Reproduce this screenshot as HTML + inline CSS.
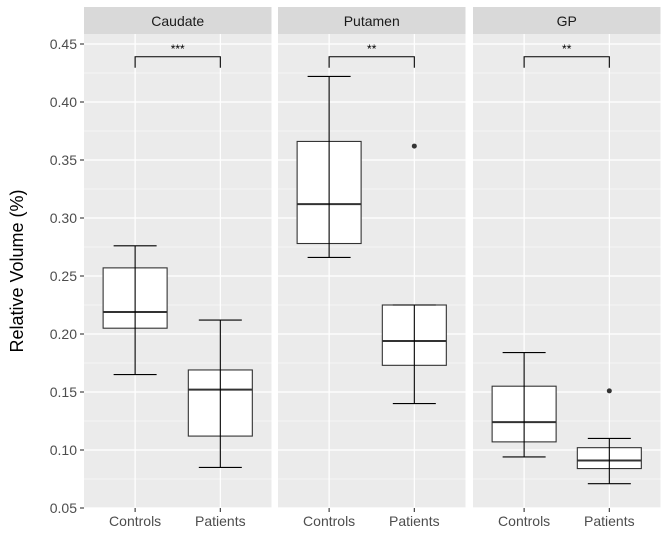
<!DOCTYPE html>
<html><head><meta charset="utf-8"><style>
body{margin:0;background:#fff;}
svg{display:block;font-family:"Liberation Sans",Arial,sans-serif;}
</style></head><body>
<svg id="chart" width="669" height="536"></svg>
<script>
const panels = ["Caudate","Putamen","GP"];
const categories = ["Controls","Patients"];
// [lowWhisker, q1, median, q3, highWhisker]
const caudateStats = [[0.165,0.205,0.219,0.257,0.276],[0.085,0.112,0.152,0.169,0.212]];
const putamenStats = [[0.266,0.278,0.312,0.366,0.422],[0.140,0.173,0.194,0.225,0.225]];
const gpStats = [[0.094,0.107,0.124,0.155,0.184],[0.071,0.084,0.091,0.102,0.110]];
const outliers = [[[],[]],[[],[0.362]],[[],[0.151]]];
const sigLabels = ["***","**","**"];
const sigLevel = 0.439;
const yTicks = [0.05,0.10,0.15,0.20,0.25,0.30,0.35,0.40,0.45];
const yTickLabels = ["0.05","0.10","0.15","0.20","0.25","0.30","0.35","0.40","0.45"];
const allStats = [caudateStats, putamenStats, gpStats];

const svg = document.getElementById('chart');
const NS = "http://www.w3.org/2000/svg";
function mk(tag, attrs, parent){const e=document.createElementNS(NS,tag);for(const k in attrs)e.setAttribute(k,attrs[k]);(parent||svg).appendChild(e);return e;}
const panelX = [84,278,473], panelW = 187.5, plotTop = 34, plotBottom = 508;
const y = v => 508 - (v-0.05)*1160;
const x = (p,i) => panelX[p] + (0.6 + i)*85.2;
const boxHalf = 32, capHalf = 21.5;

panels.forEach((name,p)=>{
  const g = mk('g',{});
  
  
  const bg = mk('rect',{x:panelX[p],y:plotTop,width:panelW,height:plotBottom-plotTop,fill:'#EBEBEB'},g);
  
  
  for(let i=0;i<yTicks.length-1;i++){
    const m=(yTicks[i]+yTicks[i+1])/2;
    mk('line',{x1:panelX[p],x2:panelX[p]+panelW,y1:y(m),y2:y(m),stroke:'#fff','stroke-width':0.6},g);
  }
  yTicks.forEach(t=>mk('line',{x1:panelX[p],x2:panelX[p]+panelW,y1:y(t),y2:y(t),stroke:'#fff','stroke-width':1.2},g));
  categories.forEach((c,i)=>mk('line',{x1:x(p,i),x2:x(p,i),y1:plotTop,y2:plotBottom,stroke:'#fff','stroke-width':1.2},g));
  const strip = mk('rect',{x:panelX[p],y:7,width:panelW,height:27,fill:'#D9D9D9'},g);
  
  
  const st = mk('text',{x:panelX[p]+panelW/2,y:26,'text-anchor':'middle','font-size':14,fill:'#1A1A1A'},g);
  st.textContent=name;
  
  
  allStats[p].forEach((s,i)=>{
    const cx=x(p,i);
    const b=mk('g',{stroke:'#333','stroke-width':1.1,fill:'#fff'},g);
    
    
    mk('rect',{x:cx-boxHalf,y:y(s[3]),width:boxHalf*2,height:y(s[1])-y(s[3])},b);
    mk('line',{x1:cx-boxHalf,x2:cx+boxHalf,y1:y(s[2]),y2:y(s[2]),'stroke-width':2},b);
    const eb=mk('g',{stroke:'#000','stroke-width':1.1},g);
    
    
    mk('line',{x1:cx,x2:cx,y1:y(s[0]),y2:y(s[4])},eb);
    mk('line',{x1:cx-capHalf,x2:cx+capHalf,y1:y(s[0]),y2:y(s[0])},eb);
    mk('line',{x1:cx-capHalf,x2:cx+capHalf,y1:y(s[4]),y2:y(s[4])},eb);
    outliers[p][i].forEach(o=>{
      const pt=mk('circle',{cx:cx,cy:y(o),r:2.5,fill:'#333',stroke:'none'},g);
      
      
    });
    mk('line',{x1:cx,x2:cx,y1:plotBottom,y2:plotBottom+4,stroke:'#333','stroke-width':1.1},g);
    const tl=mk('text',{x:cx,y:526,'text-anchor':'middle','font-size':14,fill:'#4D4D4D'},g);
    tl.textContent=categories[i];
    
    
  });
  const br=mk('path',{d:`M${x(p,0)},${y(sigLevel)+11}V${y(sigLevel)}H${x(p,1)}V${y(sigLevel)+11}`,fill:'none',stroke:'#000','stroke-width':1.1},g);
  
  
  const sl=mk('text',{x:(x(p,0)+x(p,1))/2,y:y(sigLevel)-4,'text-anchor':'middle','font-size':12,fill:'#000'},g);
  sl.textContent=sigLabels[p];
  
  
});
yTicks.forEach((t,i)=>{
  mk('line',{x1:80,x2:84,y1:y(t),y2:y(t),stroke:'#333','stroke-width':1.1});
  const tl=mk('text',{x:77,y:y(t)+5,'text-anchor':'end','font-size':14,fill:'#4D4D4D'});
  tl.textContent=yTickLabels[i];
  
  
});
const yt=mk('text',{x:0,y:0,transform:'translate(23,271) rotate(-90)','text-anchor':'middle','font-size':18,fill:'#000'});
yt.textContent='Relative Volume (%)';


</script>
</body></html>
